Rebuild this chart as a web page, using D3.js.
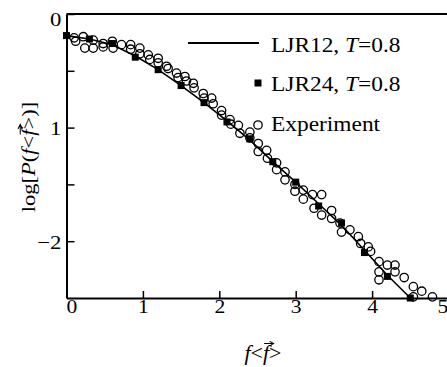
<!DOCTYPE html>
<html>
<head>
<meta charset="utf-8">
<script src="https://cdn.jsdelivr.net/npm/d3@7"></script>
<style>
  body { margin: 0; background: #fff; }
</style>
</head>
<body>
<div id="chart"></div>
<script>
// LJR12, T=0.8 (solid line)
const ljr12X = [0, 0.3, 0.6, 0.9, 1.2, 1.5, 1.8, 2.1, 2.4, 2.7, 3.0, 3.3, 3.6, 3.9, 4.2, 4.5]
const ljr12Y = [-0.19, -0.22, -0.27, -0.37, -0.49, -0.63, -0.78, -0.94, -1.11, -1.30, -1.48, -1.67, -1.86, -2.08, -2.30, -2.50]

// LJR24, T=0.8 (filled squares)
const ljr24X = [0, 0.3, 0.6, 0.9, 1.2, 1.5, 1.8, 2.1, 2.4, 2.7, 3.0, 3.3, 3.6, 3.9, 4.2, 4.5]
const ljr24Y = [-0.19, -0.22, -0.26, -0.38, -0.49, -0.63, -0.78, -0.95, -1.10, -1.30, -1.48, -1.69, -1.84, -2.10, -2.31, -2.50]

// Experiment (open circles)
const expX = [0.10, 0.12, 0.22, 0.24, 0.35, 0.35, 0.48, 0.48, 0.60, 0.61, 0.72, 0.84, 0.84, 0.96, 0.96,
  1.07, 1.09, 1.20, 1.20, 1.31, 1.33, 1.44, 1.46, 1.55, 1.57, 1.66, 1.67, 1.79, 1.80, 1.90, 1.92,
  2.03, 2.03, 2.14, 2.15, 2.25, 2.27, 2.40, 2.40, 2.51, 2.51, 2.62, 2.63, 2.75, 2.75, 2.86, 2.86,
  2.99, 2.99, 3.10, 3.10, 3.22, 3.24, 3.34, 3.34, 3.47, 3.47, 3.58, 3.60, 3.71, 3.82, 3.85, 3.95,
  3.98, 4.09, 4.09, 4.09, 4.20, 4.30, 4.30, 4.42, 4.54, 4.54, 4.65, 4.79]
const expY = [-0.21, -0.24, -0.20, -0.30, -0.23, -0.30, -0.26, -0.29, -0.24, -0.30, -0.27, -0.27, -0.31, -0.30, -0.35,
  -0.36, -0.40, -0.39, -0.43, -0.46, -0.48, -0.52, -0.56, -0.55, -0.59, -0.61, -0.65, -0.70, -0.74, -0.74, -0.79,
  -0.85, -0.89, -0.93, -0.97, -0.98, -1.05, -1.04, -1.09, -1.14, -1.21, -1.20, -1.27, -1.31, -1.37, -1.39, -1.46,
  -1.50, -1.56, -1.55, -1.63, -1.59, -1.71, -1.59, -1.77, -1.73, -1.80, -1.84, -1.92, -1.90, -1.96, -2.02, -2.05,
  -2.09, -2.18, -2.27, -2.34, -2.21, -2.21, -2.27, -2.32, -2.40, -2.49, -2.44, -2.49]

const xTicks = [0, 1, 2, 3, 4, 5]
const yTicks = [0, -0.5, -1, -1.5, -2]
const yTickLabels = { "0": "0", "-1": "1", "-2": "\u22122" }
const legendLabels = ["LJR12, ", "LJR24, ", "Experiment"]

const serif = '"Liberation Serif", "Times New Roman", serif'
const W = 447, H = 367
const mLeft = 66.5, mTop = 14, plotW = 382, plotH = 284

const svg = d3.select("#chart").append("svg")
  .attr("width", W).attr("height", H)
  .style("font-family", serif)

const x = d3.scaleLinear().domain([0, 5]).range([mLeft, mLeft + plotW])
const y = d3.scaleLinear().domain([0, -2.5]).range([mTop, mTop + plotH])

// frame: top line
svg.append("line")
  .attr("x1", mLeft).attr("x2", W + 5)
  .attr("y1", mTop).attr("y2", mTop)
  .attr("stroke", "#000").attr("stroke-width", 2)

const xAxis = svg.append("g")
  .attr("transform", `translate(0,${mTop + plotH})`)
  .call(d3.axisBottom(x).tickValues(xTicks).tickSizeInner(-7).tickSizeOuter(0).tickFormat(d3.format("d")))
xAxis.select(".domain").attr("stroke-width", 2)
xAxis.selectAll(".tick line").attr("stroke-width", 1.5)
xAxis.selectAll(".tick text")
  .attr("y", 0).attr("dy", 0)
  .style("font-family", serif).style("font-size", "18px")
  .attr("transform", d => `translate(${d == 0 ? 5 : d == 5 ? -6 : 0},15) scale(1.2,1)`)

const yAxis = svg.append("g")
  .attr("transform", `translate(${mLeft},0)`)
  .call(d3.axisLeft(y).tickValues(yTicks).tickSizeInner(-8).tickSizeOuter(0)
    .tickFormat(d => yTickLabels[String(d)] || ""))
yAxis.select(".domain").attr("stroke-width", 2)
yAxis.selectAll(".tick line").attr("stroke-width", 1.5)
yAxis.selectAll(".tick text")
  .attr("x", 0).attr("dy", 0)
  .style("font-family", serif).style("font-size", "19px")
  .attr("transform", d => `translate(-5,${d == 0 ? 11 : 7}) scale(1.2,1)`)

// LJR12 line
const lineData = ljr12X.map((v, i) => [v, ljr12Y[i]])
svg.append("path")
  .datum(lineData)
  .attr("fill", "none").attr("stroke", "#000").attr("stroke-width", 1.6)
  .attr("d", d3.line().x(d => x(d[0])).y(d => y(d[1])))

// LJR24 squares
const sq = 7
svg.append("g").selectAll("rect")
  .data(ljr24X.map((v, i) => [v, ljr24Y[i]]))
  .enter().append("rect")
  .attr("x", d => x(d[0]) - sq / 2)
  .attr("y", d => y(d[1]) - sq / 2)
  .attr("width", sq).attr("height", sq)
  .attr("fill", "#000")

// Experiment circles
svg.append("g").selectAll("circle")
  .data(expX.map((v, i) => [v, expY[i]]))
  .enter().append("circle")
  .attr("cx", d => x(d[0]))
  .attr("cy", d => y(d[1]))
  .attr("r", 4.2)
  .attr("fill", "none")
  .attr("stroke", "#000").attr("stroke-width", 1.3)

// legend
const leg = svg.append("g")
leg.append("line")
  .attr("x1", 188).attr("x2", 259).attr("y1", 43).attr("y2", 43)
  .attr("stroke", "#000").attr("stroke-width", 2)
leg.append("rect")
  .attr("x", 258 - sq / 2).attr("y", 83 - sq / 2)
  .attr("width", sq).attr("height", sq).attr("fill", "#000")
leg.append("circle")
  .attr("cx", 258).attr("cy", 125).attr("r", 4.2)
  .attr("fill", "none").attr("stroke", "#000").attr("stroke-width", 1.3)

const legY = [52, 90.5, 131]
legendLabels.forEach((lab, i) => {
  const t = leg.append("text")
    .style("font-family", serif).style("font-size", "20px")
    .attr("transform", `translate(271,${legY[i]}) scale(1.17,1)`)
  t.append("tspan").text(lab)
  if (i < 2) {
    t.append("tspan").attr("font-style", "italic").text("T")
    t.append("tspan").text("=0.8")
  }
})

// axis title with an arrow over the second f
function arrowLabel(g, parts, idx, size, sx) {
  const inner = g.append("g").attr("transform", `scale(${sx},1)`)
  const t = inner.append("text")
    .style("font-family", serif).style("font-size", size + "px")
    .attr("text-anchor", "middle")
  parts.forEach(p => t.append("tspan").attr("font-style", p[1] ? "italic" : null).text(p[0]))
  const node = t.node()
  const a = node.getStartPositionOfChar(idx)
  const b = node.getEndPositionOfChar(idx)
  const ay = -size * 0.82
  const x0 = a.x + 1, x1 = b.x + 4
  inner.append("path")
    .attr("d", `M${x0},${ay}L${x1},${ay}M${x1 - 3.5},${ay - 2.2}L${x1},${ay}L${x1 - 3.5},${ay + 2.2}`)
    .attr("fill", "none").attr("stroke", "#000").attr("stroke-width", 1)
}

arrowLabel(svg.append("g").attr("transform", "translate(263,360)"),
  [["f", true], ["<", false], ["f", true], [">", false]], 2, 20, 1.1)

arrowLabel(svg.append("g").attr("transform", "translate(35,157) rotate(-90)"),
  [["log[", false], ["P", true], ["(", false], ["f", true], ["<", false], ["f", true], [">)]", false]], 8, 18, 1.25)
</script>
</body>
</html>
